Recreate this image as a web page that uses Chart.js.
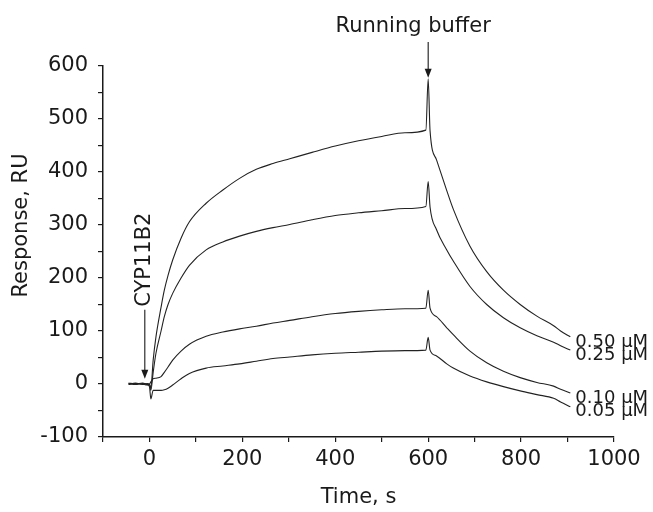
<!DOCTYPE html>
<html>
<head>
<meta charset="utf-8">
<script src="https://cdn.jsdelivr.net/npm/chart.js@4"></script>
<style>
  body { margin: 0; background: #fff; }
  .chart-box { width: 653px; height: 512px; }
</style>
</head>
<body>
<div class="chart-box">
  <canvas id="myChart"></canvas>
</div>
<script>
// time points, s
const times = [-45, -30, -15, -5, 0, 3, 8, 14, 25, 32, 40, 50, 68, 86, 122, 158, 194, 230, 266, 302, 350, 400, 450, 500, 550, 595, 600, 604, 618, 640, 654, 690, 726, 762, 798, 834, 870, 885, 906];

// response, RU
const conc050 = [0, 1, 0, -2, 0, -8, 45, 89, 145, 177, 205, 234, 275, 306, 341, 366, 388, 405, 416, 425, 437, 449, 459, 467, 474, 479, 576, 478, 423, 365, 330, 260, 212, 177, 150, 128, 110, 100, 89];
const conc025 = [1, -1, 1, 0, -1, -12, 22, 58, 100, 127, 150, 171, 200, 224, 253, 268, 279, 288, 295, 301, 310, 318, 323, 327, 331, 335, 382, 334, 291, 253, 232, 184, 150, 125, 106, 91, 79, 72, 64];
const conc010 = [-1, 2, -1, 1, 0, 4, 10, 11, 14, 22, 32, 45, 62, 75, 90, 98, 104, 109, 115, 120, 127, 133, 137, 140, 142, 143, 177, 143, 127, 106, 93, 62, 40, 24, 12, 3, -4, -10, -17];
const conc005 = [2, 0, 2, -1, -5, -28, -12, -12, -12, -11, -8, -2, 10, 20, 30, 34, 38, 43, 48, 51, 55, 58, 60, 62, 63, 64, 88, 64, 53, 38, 30, 15, 4, -5, -13, -20, -27, -34, -43];

const seriesNames = ["0.50 μM", "0.25 μM", "0.10 μM", "0.05 μM"];
const seriesValues = [conc050, conc025, conc010, conc005];

const xTicks = [0, 200, 400, 600, 800, 1000];
const yTicks = [-100, 0, 100, 200, 300, 400, 500, 600];

// where the two arrows point
const injectTime = -10;
const bufferTime = 600;

const FONT = "'DejaVu Sans', sans-serif";
const INK = "#1a1a1a";

function drawArrow(ctx, x, y1, y2){
    ctx.beginPath();
    ctx.moveTo(x, y1);
    ctx.lineTo(x, y2 - 8);
    ctx.stroke();
    ctx.beginPath();
    ctx.moveTo(x - 3.5, y2 - 9);
    ctx.lineTo(x + 3.5, y2 - 9);
    ctx.lineTo(x, y2);
    ctx.closePath();
    ctx.fill();
}

const annotations = {
    id: "annotations",
    afterDatasetsDraw(chart){
        const ctx = chart.ctx;
        const xs = chart.scales.x;
        const ys = chart.scales.y;
        const area = chart.chartArea;
        ctx.save();
        ctx.fillStyle = INK;
        ctx.strokeStyle = INK;
        ctx.lineWidth = 1.1;

        // series labels at the end of each curve
        ctx.font = "18px " + FONT;
        ctx.textAlign = "left";
        ctx.textBaseline = "middle";
        chart.data.datasets.forEach((ds, i) => {
            const pts = chart.getDatasetMeta(i).data;
            const last = pts[pts.length - 1];
            ctx.fillText(ds.label, last.x + 5, last.y + 5);
        });

        // CYP11B2 injection
        const ix = xs.getPixelForValue(injectTime);
        const iTop = ys.getPixelForValue(140);
        drawArrow(ctx, ix, iTop, ys.getPixelForValue(10));
        ctx.save();
        ctx.translate(ix, iTop - 3);
        ctx.rotate(-Math.PI / 2);
        ctx.font = "21px " + FONT;
        ctx.textAlign = "left";
        ctx.textBaseline = "middle";
        ctx.fillText("CYP11B2", 0, 0);
        ctx.restore();

        // running buffer
        const bx = xs.getPixelForValue(bufferTime);
        drawArrow(ctx, bx, area.top - 24, ys.getPixelForValue(Math.max(...conc050)) - 1);
        ctx.font = "21px " + FONT;
        ctx.textAlign = "center";
        ctx.textBaseline = "middle";
        ctx.fillText("Running buffer", bx - 15, area.top - 39);

        // y axis title
        ctx.save();
        ctx.translate(22, (area.top + area.bottom) / 2 - 26);
        ctx.rotate(-Math.PI / 2);
        ctx.fillText("Response, RU", 0, 0);
        ctx.restore();

        ctx.restore();
    }
};

const ctx = document.getElementById("myChart");

new Chart(ctx, {
    type: "line",
    data: {
        datasets: seriesValues.map((vals, i) => ({
            label: seriesNames[i],
            data: times.map((t, j) => ({ x: t, y: vals[j] })),
            borderColor: "#222",
            borderWidth: 1.1,
            pointRadius: 0,
            cubicInterpolationMode: "monotone",
            fill: false
        }))
    },
    options: {
        responsive: true,
        maintainAspectRatio: false,
        animation: false,
        events: [],
        layout: {
            padding: { top: 66, right: 39, left: 0, bottom: 0 }
        },
        plugins: {
            legend: { display: false },
            tooltip: { enabled: false }
        },
        scales: {
            x: {
                type: "linear",
                min: -100,
                max: 1000,
                afterFit: (scale) => { scale.height = 75; },
                border: { display: true, color: INK, width: 1.5 },
                grid: { drawOnChartArea: false, tickLength: 5, color: INK, lineWidth: 1.2 },
                ticks: {
                    stepSize: 100,
                    autoSkip: false,
                    maxRotation: 0,
                    padding: 5,
                    color: INK,
                    font: { family: FONT, size: 21 },
                    callback: (v) => xTicks.includes(v) ? String(v) : ""
                },
                title: {
                    display: true,
                    text: "Time, s",
                    color: INK,
                    font: { family: FONT, size: 21 },
                    padding: { top: 0, bottom: 2 }
                }
            },
            y: {
                min: -100,
                max: 600,
                afterFit: (scale) => { scale.width = 103; },
                border: { display: true, color: INK, width: 1.5 },
                grid: { drawOnChartArea: false, tickLength: 5, color: INK, lineWidth: 1.2 },
                ticks: {
                    stepSize: 50,
                    autoSkip: false,
                    padding: 10,
                    color: INK,
                    font: { family: FONT, size: 21 },
                    callback: (v) => yTicks.includes(v) ? String(v) : ""
                }
            }
        }
    },
    plugins: [annotations]
});
</script>
</body>
</html>
